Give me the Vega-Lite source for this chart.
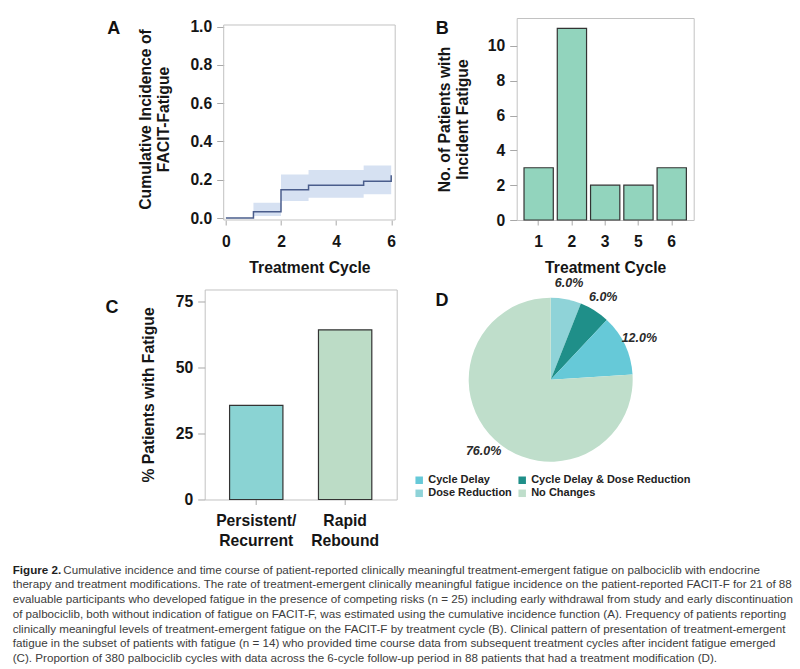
{
  "$schema": "https://vega.github.io/schema/vega-lite/v6.json",
  "background": "white",
  "padding": {"left": 12.7, "top": 17, "right": 0, "bottom": 0},
  "config": {
    "font": "Liberation Sans",
    "view": {"stroke": "#c2c2c2", "strokeWidth": 1},
    "axis": {
      "labelFont": "Liberation Sans", "labelFontWeight": "bold", "labelFontSize": 15.7, "labelColor": "#151515",
      "titleFont": "Liberation Sans", "titleFontWeight": "bold", "titleFontSize": 15.7, "titleColor": "#151515",
      "domain": false, "grid": false, "tickColor": "#a8a8a8", "tickWidth": 1, "labelOverlap": false
    },
    "axisX": {"tickSize": 5, "labelPadding": 9, "titlePadding": 12, "labelAngle": 0},
    "axisY": {"tickSize": 7, "labelPadding": 5, "titleLineHeight": 18.5},
    "title": {"fontSize": 18, "fontWeight": "bold", "font": "Liberation Sans", "color": "#111111", "anchor": "start", "frame": "group", "offset": 0, "baseline": "alphabetic"}
  },
  "datasets": {
    "cif": [
      {"cycle": 0, "cif": 0, "lo": 0, "hi": 0},
      {"cycle": 1, "cif": 0.033, "lo": 0.010, "hi": 0.080},
      {"cycle": 2, "cif": 0.148, "lo": 0.089, "hi": 0.228},
      {"cycle": 3, "cif": 0.171, "lo": 0.106, "hi": 0.251},
      {"cycle": 5, "cif": 0.192, "lo": 0.124, "hi": 0.275},
      {"cycle": 6, "cif": 0.223, "lo": 0.124, "hi": 0.275}
    ],
    "incident": [
      {"cycle": 1, "patients": 3},
      {"cycle": 2, "patients": 11},
      {"cycle": 3, "patients": 2},
      {"cycle": 5, "patients": 2},
      {"cycle": 6, "patients": 3}
    ],
    "pattern": [
      {"pattern": "Persistent/Recurrent", "percent": 35.7},
      {"pattern": "Rapid Rebound", "percent": 64.3}
    ],
    "modifications": [
      {"cat": "Dose Reduction", "share": 0.06},
      {"cat": "Cycle Delay & Dose Reduction", "share": 0.06},
      {"cat": "Cycle Delay", "share": 0.12},
      {"cat": "No Changes", "share": 0.76}
    ],
    "caption": [
      {"line": 1, "part": "label", "text": "Figure 2."},
      {"line": 1, "part": "lead", "text": "Cumulative incidence and time course of patient-reported clinically meaningful treatment-emergent fatigue on palbociclib with endocrine"},
      {"line": 2, "part": "body", "text": "therapy and treatment modifications. The rate of treatment-emergent clinically meaningful fatigue incidence on the patient-reported FACIT-F for 21 of 88"},
      {"line": 3, "part": "body", "text": "evaluable participants who developed fatigue in the presence of competing risks (n = 25) including early withdrawal from study and early discontinuation"},
      {"line": 4, "part": "body", "text": "of palbociclib, both without indication of fatigue on FACIT-F, was estimated using the cumulative incidence function (A). Frequency of patients reporting"},
      {"line": 5, "part": "body", "text": "clinically meaningful levels of treatment-emergent fatigue on the FACIT-F by treatment cycle (B). Clinical pattern of presentation of treatment-emergent"},
      {"line": 6, "part": "body", "text": "fatigue in the subset of patients with fatigue (n = 14) who provided time course data from subsequent treatment cycles after incident fatigue emerged"},
      {"line": 7, "part": "body", "text": "(C). Proportion of 380 palbociclib cycles with data across the 6-cycle follow-up period in 88 patients that had a treatment modification (D)."}
    ]
  },
  "spacing": 14.3,
  "resolve": {"scale": {"color": "independent"}, "legend": {"color": "independent"}},
  "vconcat": [
    {
      "spacing": 0.5,
      "resolve": {"scale": {"color": "independent"}, "legend": {"color": "independent"}},
      "vconcat": [
        {
          "bounds": "flush",
          "spacing": 121,
          "hconcat": [
            {"width": 89.8, "height": 1, "data": {"values": []}, "mark": "point", "view": {"stroke": null, "fill": "white"}},
            {
              "width": 171.5,
              "height": 202,
              "view": {"stroke": null},
              "title": {"text": "A", "dx": -116.5, "dy": 23.5},
              "layer": [
                {
                  "data": {"name": "cif"},
                  "mark": {"type": "area", "interpolate": "step-after", "color": "#d6e1f2"},
                  "encoding": {
                    "x": {"field": "cycle", "type": "quantitative", "scale": {"domain": [-0.08, 6.145], "nice": false, "zero": false}, "axis": {"values": [0, 1, 2, 3, 4, 5, 6], "format": "d", "title": "Treatment Cycle"}},
                    "y": {"field": "lo", "type": "quantitative", "scale": {"domain": [-0.01045, 1.0455], "nice": false, "zero": false}, "axis": {"values": [0, 0.2, 0.4, 0.6, 0.8, 1], "format": ".1f", "title": ["Cumulative Incidence of", "FACIT-Fatigue"], "titlePadding": 18}},
                    "y2": {"field": "hi"}
                  }
                },
                {
                  "data": {"name": "cif"},
                  "mark": {"type": "line", "interpolate": "step-after", "color": "#4a5d8c", "strokeWidth": 1.5},
                  "encoding": {
                    "x": {"field": "cycle", "type": "quantitative", "title": "Treatment Cycle"},
                    "y": {"field": "cif", "type": "quantitative", "title": ["Cumulative Incidence of", "FACIT-Fatigue"]}
                  }
                },
                {
                  "data": {"values": [{}]},
                  "mark": {"type": "rect", "fill": null, "stroke": "#c2c2c2", "strokeWidth": 1},
                  "encoding": {
                    "x": {"datum": -0.08, "type": "quantitative"},
                    "x2": {"datum": 6.145},
                    "y": {"datum": -0.01045, "type": "quantitative"},
                    "y2": {"datum": 1.0089}
                  }
                }
              ]
            },
            {
              "width": 177,
              "height": 202,
              "title": {"text": "B", "dx": -81, "dy": 23.5},
              "data": {"name": "incident"},
              "mark": {"type": "bar", "color": "#92d4bd", "stroke": "#333333", "strokeWidth": 1.2},
              "encoding": {
                "x": {"field": "cycle", "type": "ordinal", "scale": {"paddingInner": 0.12, "paddingOuter": 0.22}, "axis": {"title": "Treatment Cycle"}},
                "y": {"field": "patients", "type": "quantitative", "scale": {"domain": [0, 11.6], "nice": false}, "axis": {"values": [0, 2, 4, 6, 8, 10], "title": ["No. of Patients with", "Incident Fatigue"], "titlePadding": 16.5}}
              }
            }
          ]
        },
        {
          "bounds": "flush",
          "spacing": 54,
          "resolve": {"scale": {"color": "independent"}, "legend": {"color": "independent"}},
          "hconcat": [
            {"width": 137.6, "height": 1, "data": {"values": []}, "mark": "point", "view": {"stroke": null, "fill": "white"}},
            {
              "width": 192,
              "height": 210,
              "title": {"text": "C", "dx": -99.3, "dy": 31.9},
              "data": {"name": "pattern"},
              "mark": {"type": "bar", "stroke": "#333333", "strokeWidth": 1.2},
              "encoding": {
                "x": {"field": "pattern", "type": "nominal", "sort": null, "scale": {"paddingInner": 0.4, "paddingOuter": 0.28}, "axis": {"title": null, "labelExpr": "datum.value == 'Persistent/Recurrent' ? ['Persistent/', 'Recurrent'] : ['Rapid', 'Rebound']", "labelLineHeight": 20}},
                "y": {"field": "percent", "type": "quantitative", "scale": {"domain": [0, 79.6], "nice": false}, "axis": {"values": [0, 25, 50, 75], "title": "% Patients with Fatigue", "titlePadding": 18.5}},
                "color": {"field": "pattern", "type": "nominal", "scale": {"domain": ["Persistent/Recurrent", "Rapid Rebound"], "range": ["#8ad3d3", "#bcdcc6"]}, "legend": null}
              }
            },
            {
              "width": 200,
              "height": 180.4,
              "view": {"stroke": null},
              "title": {"text": "D", "dx": -15.3, "dy": 36.2},
              "data": {"name": "modifications"},
              "encoding": {
                "theta": {"field": "share", "type": "quantitative", "stack": true},
                "order": {"field": "share", "sort": "ascending"}
              },
              "layer": [
                {
                  "mark": {"type": "arc", "outerRadius": 82},
                  "encoding": {
                    "color": {
                      "field": "cat", "type": "nominal",
                      "scale": {"domain": ["Cycle Delay", "Cycle Delay & Dose Reduction", "Dose Reduction", "No Changes"], "range": ["#66c9d8", "#1f8f89", "#8fd3d8", "#bfdecb"]},
                      "legend": {"orient": "none", "legendX": -37, "legendY": 185, "title": null, "columns": 2, "direction": "horizontal", "symbolType": "square", "symbolSize": 56, "symbolStrokeWidth": 0, "labelFont": "Liberation Sans", "labelFontWeight": "bold", "labelFontSize": 11, "labelColor": "#222222", "labelOffset": 3.5, "columnPadding": 4, "rowPadding": 1.3, "padding": 0}
                    }
                  }
                },
                {
                  "mark": {"type": "text", "radius": 98, "fontWeight": "bold", "fontStyle": "italic", "fontSize": 12.5, "color": "#2a2a2a"},
                  "encoding": {"text": {"field": "share", "format": ".1%"}}
                }
              ]
            }
          ]
        }
      ]
    },
    {
      "width": 776,
      "height": 103,
      "view": {"stroke": null, "fill": "white"},
      "data": {"name": "caption"},
      "encoding": {
        "y": {"field": "line", "type": "ordinal", "axis": null, "scale": {"paddingInner": 0, "paddingOuter": 0}},
        "x": {"datum": 0, "type": "quantitative", "scale": {"domain": [0, 1]}, "axis": null},
        "text": {"field": "text"}
      },
      "layer": [
        {"transform": [{"filter": "datum.part == 'label'"}], "mark": {"type": "text", "align": "left", "baseline": "middle", "font": "Liberation Sans", "fontWeight": "bold", "fontSize": 11.65, "color": "#1e1e1e"}},
        {"transform": [{"filter": "datum.part == 'lead'"}], "mark": {"type": "text", "align": "left", "baseline": "middle", "font": "Liberation Sans", "fontSize": 11.65, "color": "#3c3c3c", "dx": 50.6}},
        {"transform": [{"filter": "datum.part == 'body'"}], "mark": {"type": "text", "align": "left", "baseline": "middle", "font": "Liberation Sans", "fontSize": 11.65, "color": "#3c3c3c"}}
      ]
    }
  ]
}
